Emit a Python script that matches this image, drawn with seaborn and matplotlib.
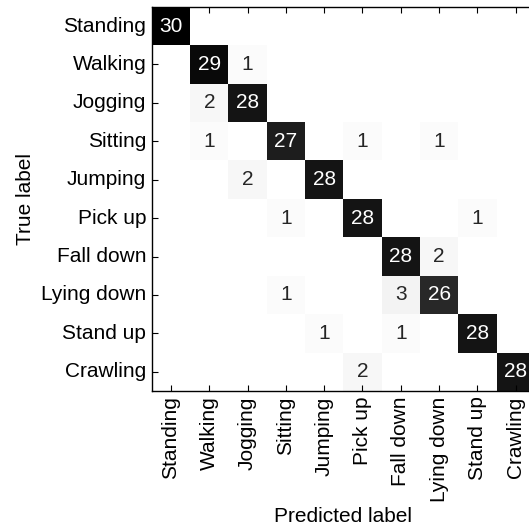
import numpy as np
import pandas as pd
import matplotlib
matplotlib.use("Agg")
import matplotlib.pyplot as plt
import seaborn as sns

labels = ["Standing", "Walking", "Jogging", "Sitting", "Jumping",
          "Pick up", "Fall down", "Lying down", "Stand up", "Crawling"]

row_standing = [30, 0, 0, 0, 0, 0, 0, 0, 0, 0]
row_walking = [0, 29, 1, 0, 0, 0, 0, 0, 0, 0]
row_jogging = [0, 2, 28, 0, 0, 0, 0, 0, 0, 0]
row_sitting = [0, 1, 0, 27, 0, 1, 0, 1, 0, 0]
row_jumping = [0, 0, 2, 0, 28, 0, 0, 0, 0, 0]
row_pickup = [0, 0, 0, 1, 0, 28, 0, 0, 1, 0]
row_falldown = [0, 0, 0, 0, 0, 0, 28, 2, 0, 0]
row_lyingdown = [0, 0, 0, 1, 0, 0, 3, 26, 0, 0]
row_standup = [0, 0, 0, 0, 1, 0, 1, 0, 28, 0]
row_crawling = [0, 0, 0, 0, 0, 2, 0, 0, 0, 28]

cm = np.array([row_standing, row_walking, row_jogging, row_sitting, row_jumping,
               row_pickup, row_falldown, row_lyingdown, row_standup, row_crawling])
df = pd.DataFrame(cm, index=labels, columns=labels)
annot = np.where(cm > 0, cm.astype(str), "")

plt.rcParams['font.family'] = ['Liberation Sans', 'DejaVu Sans']
plt.rcParams['text.color'] = 'black'
plt.rcParams['axes.labelcolor'] = 'black'
plt.rcParams['xtick.color'] = 'black'
plt.rcParams['ytick.color'] = 'black'

fs = 15
fig = plt.figure(figsize=(5.29, 5.29), dpi=100)
ax = fig.add_axes([0.287, 0.261, 0.724, 0.726])
sns.heatmap(df, ax=ax, cmap="Greys", vmin=0, vmax=30, annot=annot, fmt="",
            cbar=False, annot_kws={"fontsize": fs})

for s in ax.spines.values():
    s.set_visible(True)
    s.set_color("black")
    s.set_linewidth(1.0)

ax.tick_params(direction="in", bottom=True, left=True, top=True, right=True,
               length=4, width=0.8, color="black", labelsize=fs,
               labeltop=False, labelright=False, pad=4)
ax.set_xticklabels(labels, rotation=90)
ax.set_yticklabels(labels, rotation=0)
ax.set_xlabel("Predicted label", fontsize=fs)
ax.set_ylabel("True label", fontsize=fs)

fig.savefig("out.png", dpi=100)
